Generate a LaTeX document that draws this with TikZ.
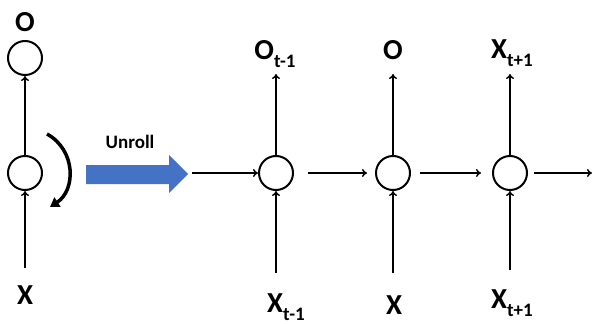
\documentclass[tikz,border=0pt]{standalone}
\usepackage{fontspec}
\setmainfont{Carlito}
\usetikzlibrary{arrows.meta}
\definecolor{unrollblue}{RGB}{68,114,196}
\newcommand\lowsub[1]{\raisebox{-0.3em}{\fontsize{19}{19}\selectfont #1}}
\begin{document}
\begin{tikzpicture}[x=1pt,y=-1pt,
  cell/.style={circle,draw,line width=2pt,minimum size=34pt,inner sep=0pt},
  lbl/.style={font=\fontsize{29}{29}\selectfont\bfseries,inner sep=0pt,anchor=base},
  flow/.style={line width=1.5pt,-{To[length=5pt,width=8pt]}}]
\useasboundingbox (0,0) rectangle (592,324);

% folded network
\node[cell] (fo) at (25,58) {};
\node[cell] (fh) at (25,173) {};
\coordinate (fx) at (25,268);
\node[lbl] (lo) at (25,31) {O};
\node[lbl] (lx) at (25,304) {X};
\draw[flow] (fh) -- (fo);
\draw[flow] (fx) -- (fh);
% recurrence loop
\draw[line width=3.5pt,-{Triangle[length=9pt,width=11pt]}]
  (47,134) .. controls (76,150) and (76,190) .. (50,207);

% unroll arrow
\node[font=\fontsize{19}{19}\selectfont\bfseries] (un) at (130,142) {Unroll};
\fill[unrollblue] (86,165) -- (169,165) -- (169,155) -- (188,174) -- (169,193) -- (169,184) -- (86,184) -- cycle;

% unrolled network
\node[cell] (h1) at (276,173) {};
\node[cell] (h2) at (393,173) {};
\node[cell] (h3) at (510,173) {};
\coordinate (in) at (192,173);
\coordinate (out) at (592,173);
\coordinate (x1) at (276,273);
\coordinate (x2) at (393,273);
\coordinate (x3) at (510,270);
\coordinate (o1) at (276,74);
\coordinate (o2) at (393,74);
\coordinate (o3) at (510,74);

\draw[flow] (in) -- (h1);
\draw[flow] ([xshift=14pt]h1.east) -- ([xshift=-8pt]h2.west);
\draw[flow] ([xshift=9pt]h2.east) -- ([xshift=-11pt]h3.west);
\draw[flow] ([xshift=6pt]h3.east) -- (out);

\foreach \i in {1,2,3} {
  \draw[flow] (x\i) -- (h\i);
  \draw[flow] (h\i) -- (o\i);
}

\node[lbl] (lo1) at (275,59) {O\lowsub{t-1}};
\node[lbl] (lo2) at (393,59) {O};
\node[lbl] (lo3) at (512,58) {X\lowsub{t+1}};
\node[lbl] (lx1) at (286,312) {X\lowsub{t-1}};
\node[lbl] (lx2) at (394,314) {X};
\node[lbl] (lx3) at (512,308) {X\lowsub{t+1}};
\end{tikzpicture}
\end{document}
